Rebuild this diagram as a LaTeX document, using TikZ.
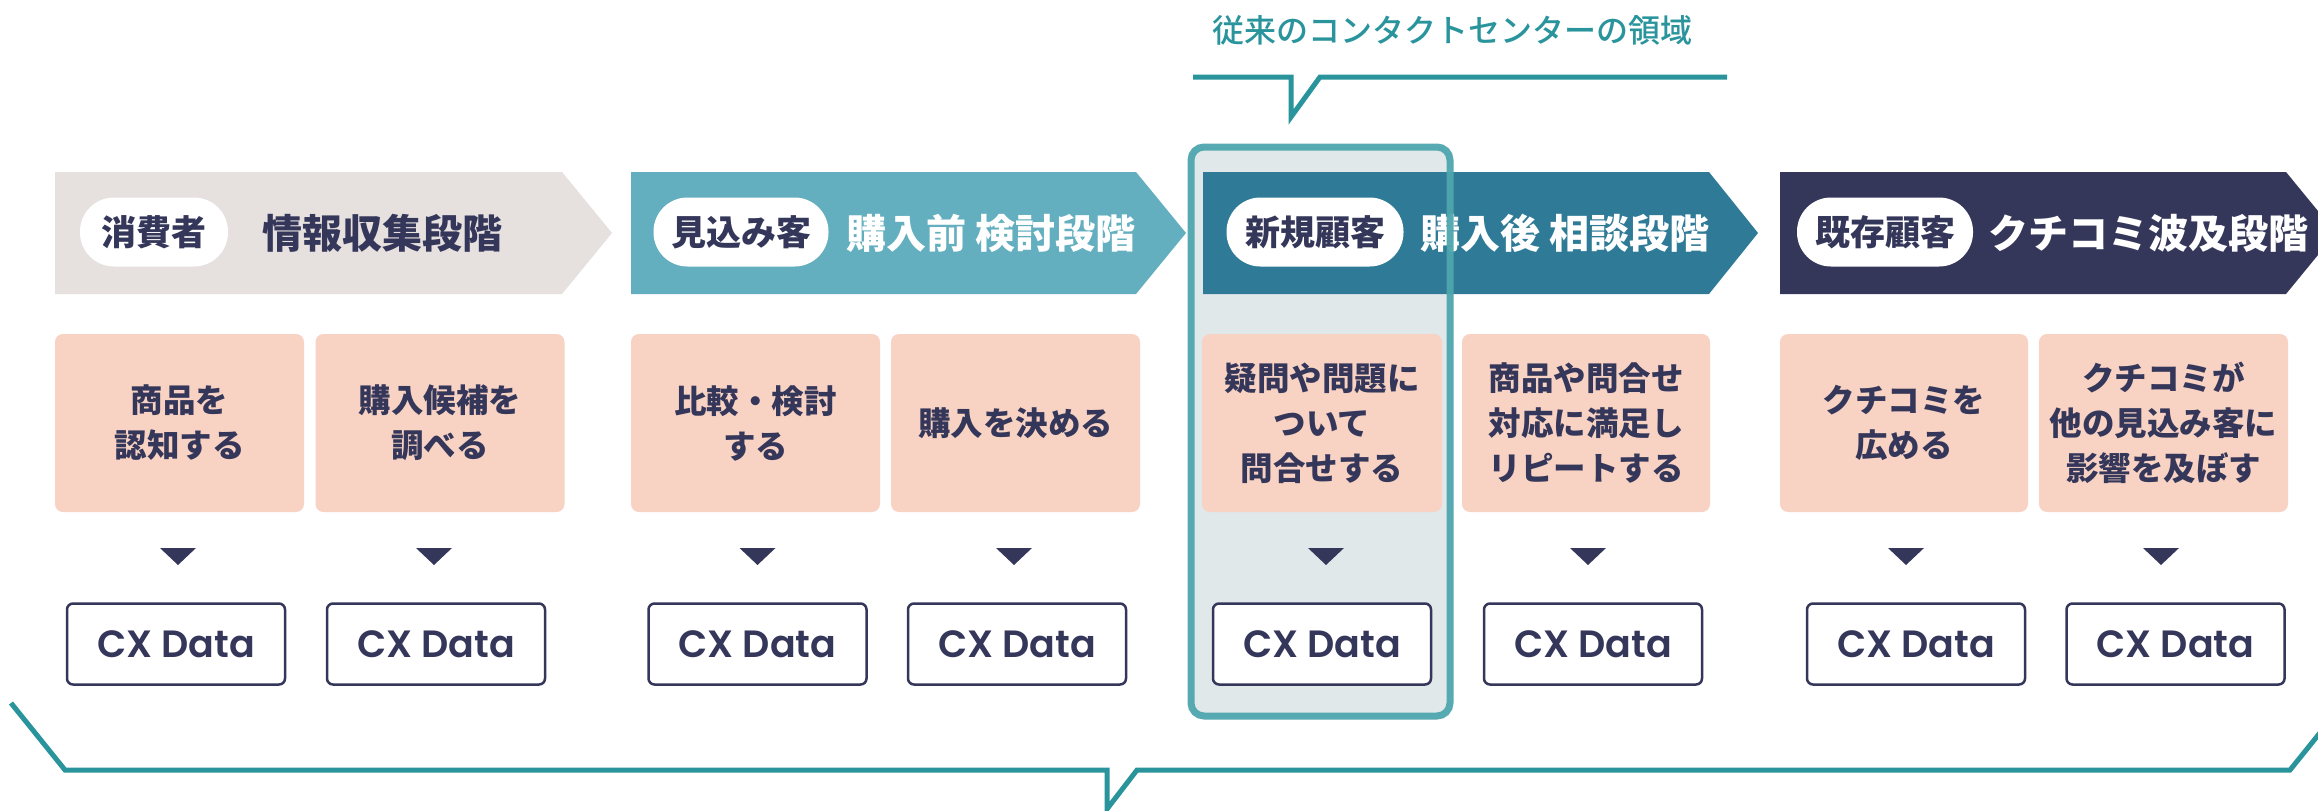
\documentclass[tikz,border=0pt]{standalone}
\usepackage{fontspec}
\newfontfamily\jp{Noto Sans CJK JP}
\newfontfamily\jpmed{Noto Sans CJK JP Medium}
\newfontfamily\pop{Poppins SemiBold}
\usetikzlibrary{calc}
\definecolor{navy}{HTML}{35375A}
\definecolor{arrowA}{HTML}{E6E0DF}
\definecolor{arrowB}{HTML}{63AFBF}
\definecolor{arrowC}{HTML}{2F7B97}
\definecolor{arrowD}{HTML}{35375A}
\definecolor{pinkfill}{HTML}{F8D3C4}
\definecolor{tealline}{HTML}{2A949C}
\definecolor{framestroke}{HTML}{4EA6AE}
\definecolor{framefill}{HTML}{E1E8EA}
\tikzset{
  pill/.style={fill=white, rounded corners=34pt, minimum height=69pt, inner sep=0pt,
    text=navy, font=\jp\bfseries\fontsize{35}{35}\selectfont},
  stagetitle/.style={anchor=west, inner sep=0pt, font=\jp\bfseries\fontsize{40}{40}\selectfont},
  pinkbox/.style={fill=pinkfill, rounded corners=8pt, minimum height=178pt, inner sep=0pt,
    align=center, text=navy, font=\jp\bfseries\fontsize{32.5}{45}\selectfont},
  cxbox/.style={draw=navy, line width=2.5pt, fill=white, rounded corners=6pt,
    minimum width=218pt, minimum height=81pt, inner sep=0pt, text=navy,
    font=\pop\fontsize{38}{38}\selectfont},
  bracketline/.style={draw=tealline, line width=5pt, line join=miter},
  marker/.style={fill=navy},
}
\begin{document}
\begin{tikzpicture}[x=1pt,y=-1pt]
\useasboundingbox (0,0) rectangle (2318,811);
\clip (0,0) rectangle (2318,811);
\fill[white] (0,0) rectangle (2318,811);

% highlight frame fill
\fill[framefill, rounded corners=13pt] (1191,147) rectangle (1450,716);

% stage arrows
\fill[arrowA] (55,172) -- (562,172) -- (612,233) -- (562,294) -- (55,294) -- cycle;
\fill[arrowB] (631,172) -- (1136,172) -- (1186,233) -- (1136,294) -- (631,294) -- cycle;
\fill[arrowC] (1203,172) -- (1709,172) -- (1758,233) -- (1709,294) -- (1203,294) -- cycle;
\fill[arrowD] (1780,172) -- (2286,172) -- (2336,233) -- (2286,294) -- (1780,294) -- cycle;

% pills and titles
\node[pill, minimum width=148pt] (c1) at (154,232) {消費者};
\node[stagetitle, text=navy] (t1) at (262,233) {情報収集段階};
\node[pill, minimum width=175pt] (c2) at (741,232) {見込み客};
\node[stagetitle, text=white] (t2) at (846,233) {購入前 検討段階};
\node[pill, minimum width=177pt] (c3) at (1315,232) {新規顧客};
\node[stagetitle, text=white] (t3) at (1420,233) {購入後 相談段階};
\node[pill, minimum width=176pt] (c4) at (1885,232) {既存顧客};
\node[stagetitle, text=white] (t4) at (1988,233) {クチコミ波及段階};

% action boxes
\node[pinkbox, minimum width=249pt] (p1) at (179.5,423) {商品を\\認知する};
\node[pinkbox, minimum width=249pt] (p2) at (440,423) {購入候補を\\調べる};
\node[pinkbox, minimum width=249pt] (p3) at (755.5,423) {比較・検討\\する};
\node[pinkbox, minimum width=249pt] (p4) at (1015.5,423) {購入を決める};
\node[pinkbox, minimum width=240pt] (p5) at (1322,423) {疑問や問題に\\ついて\\問合せする};
\node[pinkbox, minimum width=248pt] (p6) at (1586,423) {商品や問合せ\\対応に満足し\\リピートする};
\node[pinkbox, minimum width=248pt] (p7) at (1904,423) {クチコミを\\広める};
\node[pinkbox, minimum width=249pt] (p8) at (2163.5,423) {クチコミが\\他の見込み客に\\影響を及ぼす};

% markers
\foreach \mx in {178,434,757.5,1014,1326,1588,1906,2161}{
  \fill[marker] (\mx-18,548) -- (\mx+18,548) -- (\mx,565) -- cycle;
}

% data boxes
\node[cxbox] (d1) at (176,644) {CX Data};
\node[cxbox] (d2) at (436,644) {CX Data};
\node[cxbox] (d3) at (757.5,644) {CX Data};
\node[cxbox] (d4) at (1017,644) {CX Data};
\node[cxbox] (d5) at (1322,644) {CX Data};
\node[cxbox] (d6) at (1593,644) {CX Data};
\node[cxbox] (d7) at (1916,644) {CX Data};
\node[cxbox] (d8) at (2175.5,644) {CX Data};

% highlight frame stroke
\draw[draw=framestroke, line width=7pt, rounded corners=13pt, opacity=0.95] (1191,147) rectangle (1450,716);

% top label and bracket
\node[inner sep=0pt, text=tealline, font=\jpmed\fontsize{32}{32}\selectfont] (lab) at (1452,30) {従来のコンタクトセンターの領域};
\coordinate (tbL) at (1193,77);
\coordinate (tbR) at (1727,77);
\draw[bracketline] (tbL) -- (1291,77) -- (1291,117) -- (1320,77) -- (tbR);

% bottom bracket
\coordinate (bbL) at (11,703);
\coordinate (bbR) at (2344,703);
\draw[bracketline] (bbL) -- (65,770) -- (1107,770) -- (1107,809) -- (1137,770) -- (2290,770) -- (bbR);
\end{tikzpicture}
\end{document}
